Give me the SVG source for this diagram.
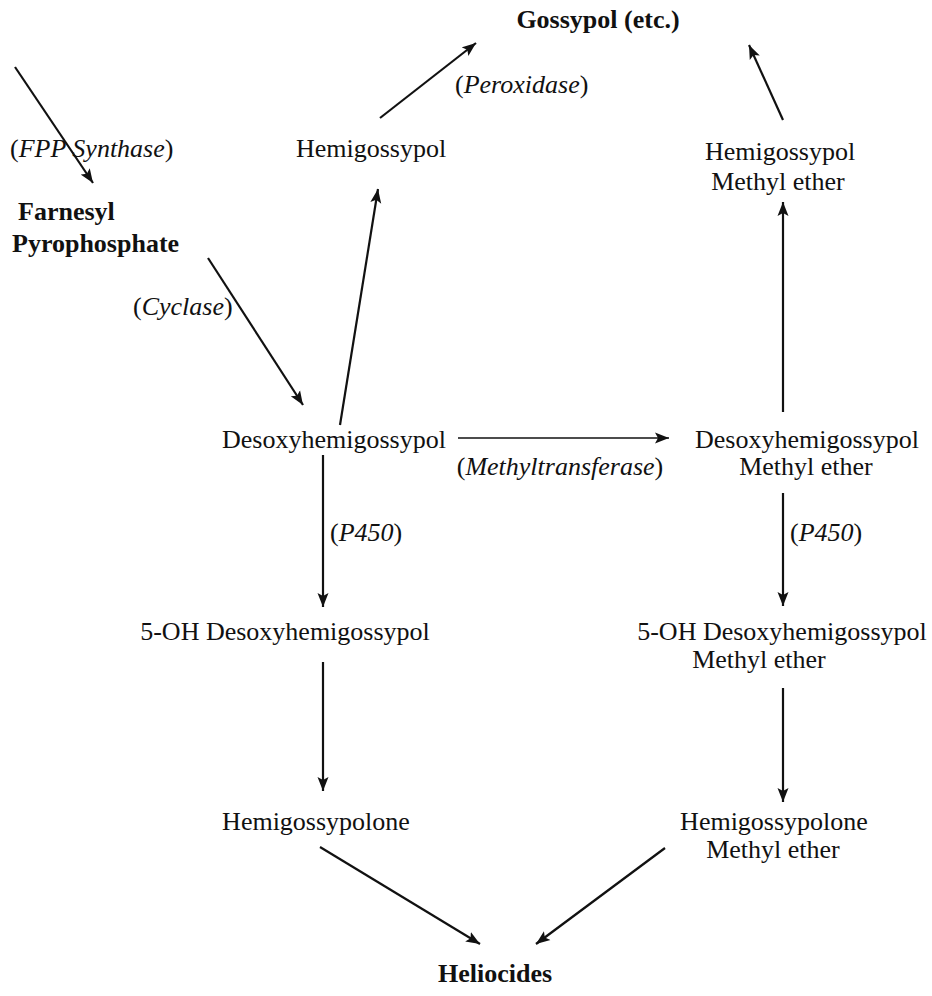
<svg xmlns="http://www.w3.org/2000/svg" width="932" height="996" viewBox="0 0 932 996">
<style>
text{font-family:"Liberation Serif","Times New Roman",serif;font-size:26px;fill:#111}
.b{font-weight:bold}
.m{text-anchor:middle}
.i{font-style:italic}
.c{stroke:#111;stroke-width:2.2;fill:none}
.t{stroke-width:1.5}
</style>
<defs>
<marker id="ah" markerUnits="userSpaceOnUse" markerWidth="16" markerHeight="12" refX="14" refY="6" orient="auto">
<path d="M0,0.5 L14,6 L0,11.5 L3,6 Z" fill="#111"/>
</marker>
</defs>
<rect width="932" height="996" fill="#fff"/>
<g id="connectors">
<line class="c" x1="15" y1="67" x2="93" y2="183" marker-end="url(#ah)"/>
<line class="c" x1="208" y1="258" x2="303" y2="405" marker-end="url(#ah)"/>
<line class="c" x1="340" y1="425" x2="378" y2="189" marker-end="url(#ah)"/>
<line class="c" x1="380" y1="118" x2="476" y2="43" marker-end="url(#ah)"/>
<line class="c" x1="783" y1="120" x2="749" y2="45" marker-end="url(#ah)"/>
<line class="c" x1="783" y1="412" x2="783" y2="202" marker-end="url(#ah)"/>
<line class="c t" x1="458" y1="438" x2="669" y2="438" marker-end="url(#ah)"/>
<line class="c" x1="323" y1="455" x2="323" y2="607" marker-end="url(#ah)"/>
<line class="c" x1="783" y1="493" x2="783" y2="606" marker-end="url(#ah)"/>
<line class="c" x1="323" y1="662" x2="323" y2="791" marker-end="url(#ah)"/>
<line class="c" x1="783" y1="688" x2="783" y2="802" marker-end="url(#ah)"/>
<line class="c" x1="320" y1="847" x2="480" y2="944" marker-end="url(#ah)"/>
<line class="c" x1="665" y1="848" x2="536" y2="944" marker-end="url(#ah)"/>
</g>
<g id="gossypol"><text class="b m" x="598" y="28">Gossypol (etc.)</text></g>
<g id="peroxidase"><text x="455" y="93">(<tspan class="i">Peroxidase</tspan>)</text></g>
<g id="fpp-synthase"><text x="10" y="157">(<tspan class="i">FPP Synthase</tspan>)</text></g>
<g id="hemigossypol"><text class="m" x="371" y="157">Hemigossypol</text></g>
<g id="hemigossypol-me"><text class="m" x="780" y="160">Hemigossypol</text><text class="m" x="778" y="190">Methyl ether</text></g>
<g id="fpp"><text class="b" x="18" y="220">Farnesyl</text><text class="b" x="12" y="252">Pyrophosphate</text></g>
<g id="cyclase"><text x="133" y="315">(<tspan class="i">Cyclase</tspan>)</text></g>
<g id="desoxy"><text class="m" x="334" y="448">Desoxyhemigossypol</text></g>
<g id="desoxy-me"><text class="m" x="807" y="448">Desoxyhemigossypol</text><text class="m" x="806" y="475">Methyl ether</text></g>
<g id="methyltransferase"><text class="m" x="560" y="475">(<tspan class="i">Methyltransferase</tspan>)</text></g>
<g id="p450-l"><text x="330" y="541">(<tspan class="i">P450</tspan>)</text></g>
<g id="p450-r"><text x="790" y="541">(<tspan class="i">P450</tspan>)</text></g>
<g id="oh-desoxy"><text class="m" x="285" y="640">5-OH Desoxyhemigossypol</text></g>
<g id="oh-desoxy-me"><text class="m" x="782" y="640">5-OH Desoxyhemigossypol</text><text class="m" x="759" y="668">Methyl ether</text></g>
<g id="hemigossypolone"><text class="m" x="316" y="830">Hemigossypolone</text></g>
<g id="hemigossypolone-me"><text class="m" x="774" y="830">Hemigossypolone</text><text class="m" x="773" y="858">Methyl ether</text></g>
<g id="heliocides"><text class="b m" x="495" y="982">Heliocides</text></g>
</svg>
